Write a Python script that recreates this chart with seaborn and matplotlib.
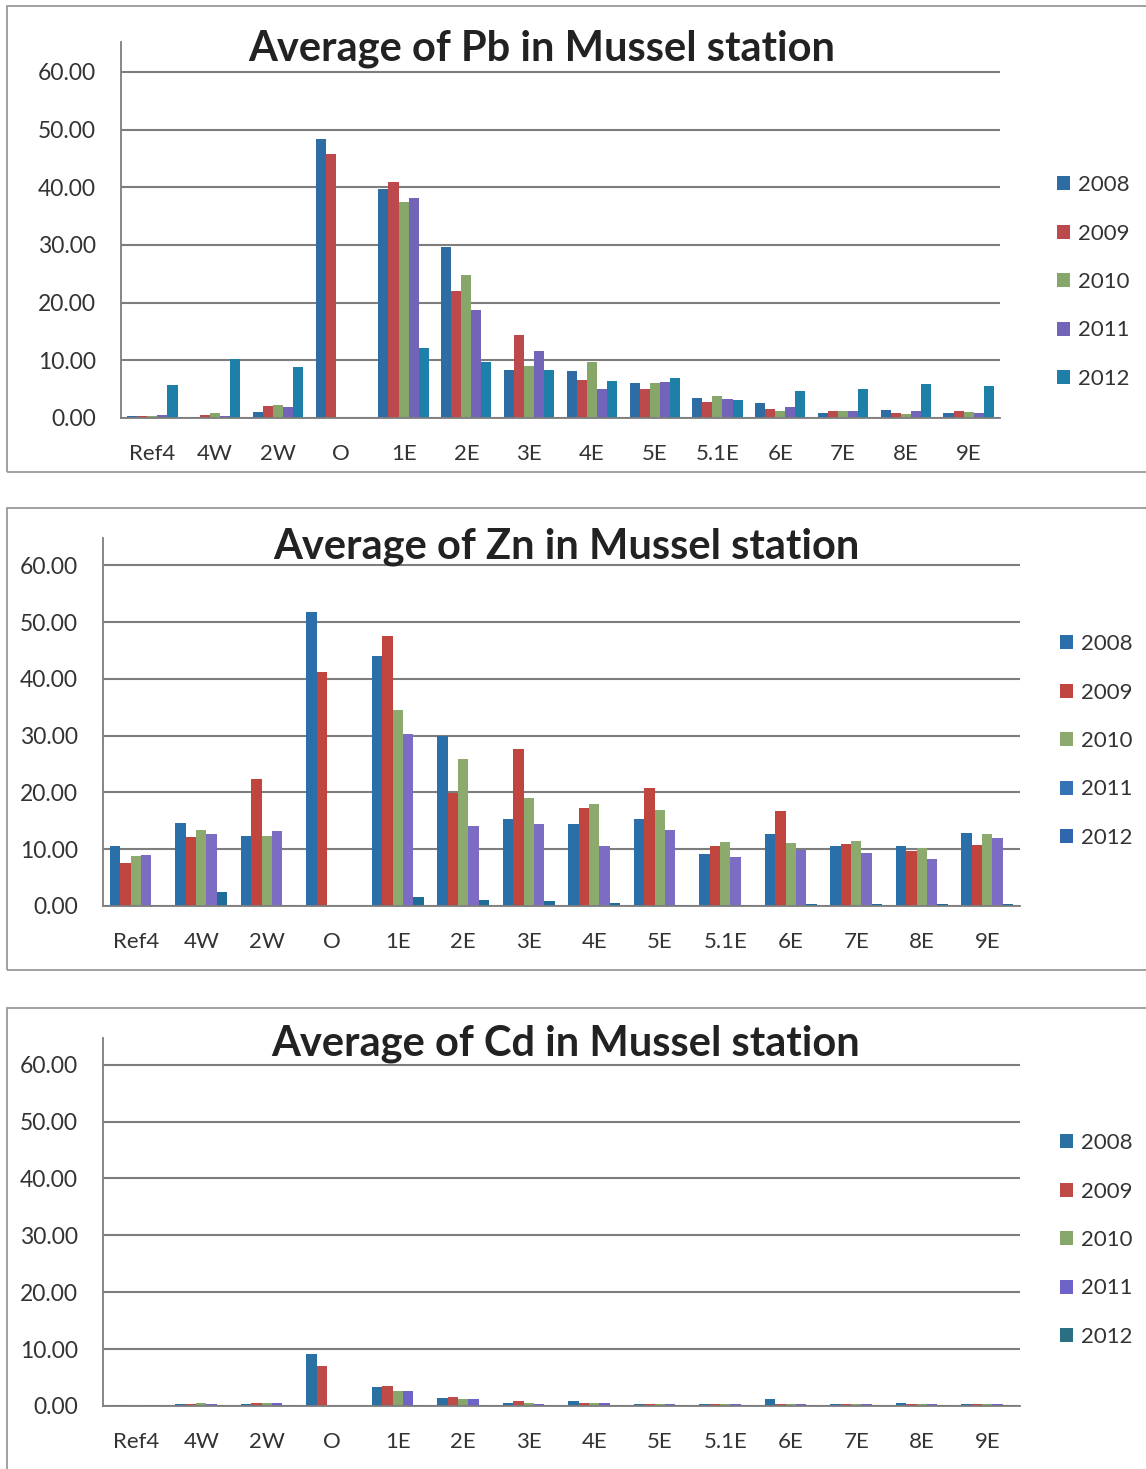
import numpy as np
import pandas as pd
import matplotlib
matplotlib.use("Agg")
import matplotlib.pyplot as plt
from matplotlib.patches import Patch, Rectangle
import seaborn as sns

sns.set_theme(style="white")
plt.rcParams["font.family"] = ["Lato", "DejaVu Sans"]

stations = ["Ref4", "4W", "2W", "O", "1E", "2E", "3E", "4E", "5E", "5.1E", "6E", "7E", "8E", "9E"]
years = ["2008", "2009", "2010", "2011", "2012"]

# Average Pb per station, one list per year
pb_2008 = [0.3, 0.2, 1.0, 48.4, 39.7, 29.7, 8.3, 8.2, 6.0, 3.5, 2.6, 0.8, 1.4, 0.8]
pb_2009 = [0.3, 0.6, 2.1, 45.7, 41.0, 22.0, 14.4, 6.6, 5.1, 2.7, 1.6, 1.2, 0.9, 1.2]
pb_2010 = [0.4, 0.8, 2.3, 0.0, 37.5, 24.8, 9.1, 9.7, 6.0, 3.9, 1.3, 1.3, 0.7, 1.0]
pb_2011 = [0.5, 0.4, 1.9, 0.0, 38.1, 18.8, 11.6, 5.0, 6.3, 3.3, 1.9, 1.2, 1.2, 0.9]
pb_2012 = [5.8, 10.3, 8.8, 0.0, 12.2, 9.7, 8.4, 6.4, 6.9, 3.2, 4.7, 5.1, 5.9, 5.6]

# Average Zn per station
zn_2008 = [10.5, 14.7, 12.4, 51.8, 44.1, 29.9, 15.4, 14.5, 15.4, 9.1, 12.7, 10.6, 10.5, 12.9]
zn_2009 = [7.6, 12.1, 22.4, 41.2, 47.5, 19.9, 27.7, 17.2, 20.8, 10.6, 16.7, 10.9, 9.7, 10.7]
zn_2010 = [8.8, 13.4, 12.4, 0.0, 34.6, 25.8, 19.0, 17.9, 16.9, 11.2, 11.1, 11.5, 10.3, 12.7]
zn_2011 = [9.0, 12.7, 13.2, 0.0, 30.2, 14.0, 14.5, 10.5, 13.4, 8.7, 9.9, 9.3, 8.3, 12.0]
zn_2012 = [0.1, 2.5, 0.1, 0.0, 1.6, 1.1, 0.8, 0.5, 0.2, 0.1, 0.3, 0.3, 0.4, 0.3]

# Average Cd per station
cd_2008 = [0.2, 0.3, 0.4, 9.2, 3.3, 1.4, 0.6, 0.8, 0.3, 0.3, 1.3, 0.4, 0.5, 0.4]
cd_2009 = [0.2, 0.4, 0.6, 7.1, 3.6, 1.6, 0.9, 0.5, 0.3, 0.4, 0.4, 0.4, 0.3, 0.4]
cd_2010 = [0.15, 0.5, 0.6, 0.0, 2.6, 1.3, 0.6, 0.6, 0.3, 0.3, 0.3, 0.4, 0.3, 0.4]
cd_2011 = [0.15, 0.4, 0.5, 0.0, 2.7, 1.2, 0.4, 0.5, 0.3, 0.3, 0.3, 0.3, 0.3, 0.3]
cd_2012 = [0.1, 0.1, 0.1, 0.0, 0.1, 0.1, 0.1, 0.1, 0.1, 0.1, 0.1, 0.1, 0.1, 0.1]

pal_pb = ["#2E6DA4", "#BC4A4C", "#86A66A", "#7264B8", "#1E7FA8"]
pal_zn = ["#2A6FAA", "#C0453F", "#8CAA6E", "#7C6CC4", "#1F6C98"]
pal_zn_legend = ["#2A6FAA", "#C0453F", "#8CAA6E", "#3573B5", "#2F66AE"]
pal_cd = ["#2A70A3", "#BE4B48", "#86A66A", "#6E63C8", "#2A6F82"]


def long_frame(series):
    rows = []
    for yr, vals in zip(years, series):
        for st, v in zip(stations, vals):
            rows.append({"station": st, "year": yr, "value": v})
    return pd.DataFrame(rows)


W, H = 1146, 1469
fig = plt.figure(figsize=(W / 100, H / 100), dpi=100)
fig.patch.set_facecolor("white")

# panel frames
for (y0, y1) in [(6, 472), (508, 970), (1008, 1475)]:
    fig.patches.append(Rectangle((7 / W, 1 - y1 / H), (W + 20) / W, (y1 - y0) / H,
                                 transform=fig.transFigure, fill=False,
                                 edgecolor="#9a9a9a", linewidth=1.3, zorder=0))

charts = [
    dict(title="Average of Pb in Mussel station", data=[pb_2008, pb_2009, pb_2010, pb_2011, pb_2012],
         pal=pal_pb, leg=pal_pb, box=(121, 1000, 42, 418), ytop=65.2,
         tx=542, ty=49, lx=1057, ly=282),
    dict(title="Average of Zn in Mussel station", data=[zn_2008, zn_2009, zn_2010, zn_2011, zn_2012],
         pal=pal_zn, leg=pal_zn_legend, box=(103, 1020, 538, 906), ytop=64.8,
         tx=566, ty=547, lx=1060, ly=741),
    dict(title="Average of Cd in Mussel station", data=[cd_2008, cd_2009, cd_2010, cd_2011, cd_2012],
         pal=pal_cd, leg=pal_cd, box=(103, 1020, 1038, 1406), ytop=64.7,
         tx=566, ty=1044, lx=1060, ly=1240),
]

grid_c = "#7d7d7d"
text_c = "#333333"

for c in charts:
    x0, x1, yt, yb = c["box"]
    ax = fig.add_axes([x0 / W, 1 - yb / H, (x1 - x0) / W, (yb - yt) / H])
    df = long_frame(c["data"])
    sns.barplot(data=df, x="station", y="value", hue="year", palette=c["pal"],
                saturation=1, width=0.8, ax=ax, legend=False, errorbar=None,
                edgecolor="none", linewidth=0)
    ax.set_xlim(-0.5, len(stations) - 0.5)
    ax.set_ylim(0, c["ytop"])
    ax.set_yticks(np.arange(0, 61, 10))
    ax.set_yticklabels([f"{v:.2f}" for v in np.arange(0, 61, 10)], fontsize=16.5, color=text_c)
    ax.set_xticks(range(len(stations)))
    ax.set_xticklabels(stations, fontsize=16, color=text_c)
    ax.set_xticks(np.arange(-0.5, len(stations), 1), minor=True)
    ax.tick_params(axis="x", which="major", length=0, pad=19)
    ax.tick_params(axis="x", which="minor", length=6, width=1.2, color=grid_c, direction="out")
    ax.tick_params(axis="y", which="major", length=7, width=1.2, color=grid_c, direction="out", pad=11)
    ax.set_xlabel("")
    ax.set_ylabel("")
    ax.set_axisbelow(True)
    ax.yaxis.grid(True, color=grid_c, linewidth=1.5)
    ax.xaxis.grid(False)
    for s in ["top", "right"]:
        ax.spines[s].set_visible(False)
    for s in ["left", "bottom"]:
        ax.spines[s].set_color(grid_c)
        ax.spines[s].set_linewidth(1.3)
    ax.patch.set_alpha(0)

    fig.text(c["tx"] / W, 1 - c["ty"] / H, c["title"], ha="center", va="center",
             fontsize=30, fontweight="bold", color="#222222")

    handles = [Patch(facecolor=col, edgecolor="none", label=yr) for col, yr in zip(c["leg"], years)]
    fig.legend(handles=handles, loc="center left", bbox_to_anchor=(c["lx"] / W, 1 - c["ly"] / H),
               bbox_transform=fig.transFigure, frameon=False, fontsize=16,
               labelspacing=1.28, handlelength=0.6, handleheight=0.6, handletextpad=0.35,
               borderpad=0, borderaxespad=0, labelcolor=text_c)

fig.savefig("out.png", dpi=100, facecolor="white")
